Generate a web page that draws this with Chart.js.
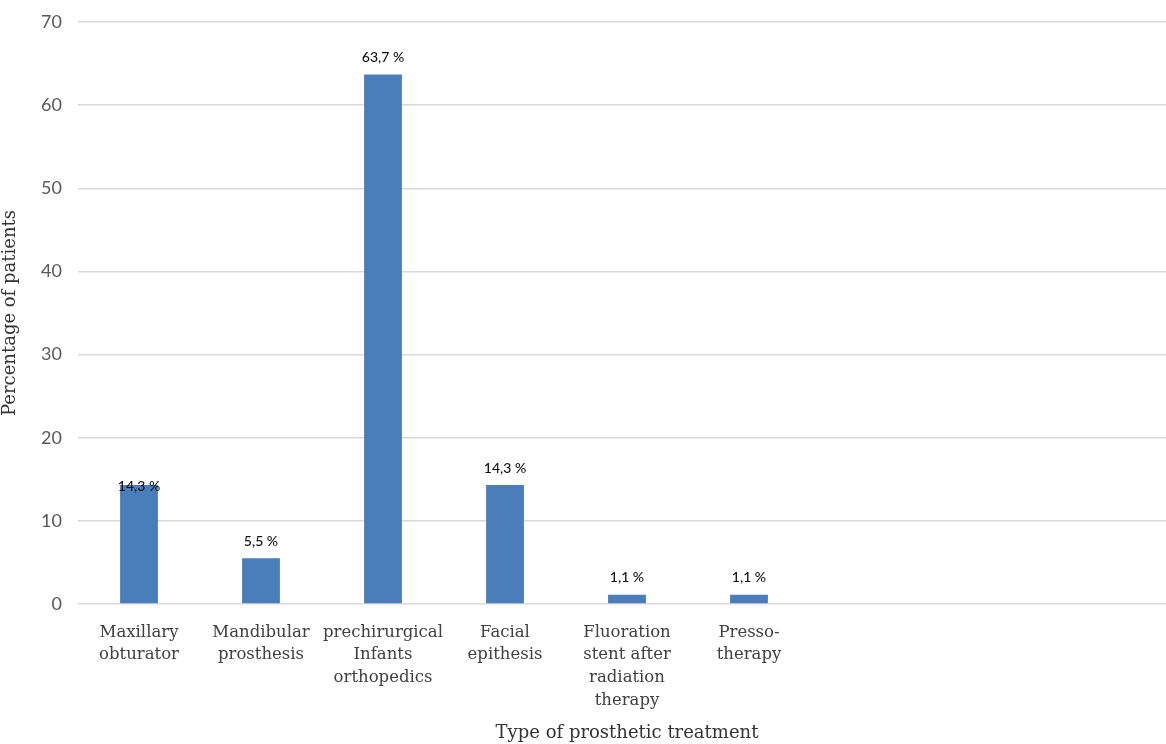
<!DOCTYPE html>
<html>
<head>
<meta charset="utf-8">
<script src="https://cdn.jsdelivr.net/npm/chart.js@4"></script>
<style>
  html, body { margin: 0; padding: 0; background: #fff; overflow: hidden; }
  #wrap { width: 1180px; height: 744px; }
</style>
</head>
<body>
<div id="wrap"><canvas id="myChart" width="1180" height="744"></canvas></div>
<script>
'use strict';

// categories (last three slots are empty in the original)
var categories = [
  ['Maxillary', 'obturator'],
  ['Mandibular', 'prosthesis'],
  ['prechirurgical', 'Infants', 'orthopedics'],
  ['Facial', 'epithesis'],
  ['Fluoration', 'stent after', 'radiation', 'therapy'],
  ['Presso-', 'therapy'],
  '', '', ''
];
var percentages = [14.3, 5.5, 63.7, 14.3, 1.1, 1.1, null, null, null];
var valueLabels = ['14,3 %', '5,5 %', '63,7 %', '14,3 %', '1,1 %', '1,1 %', '', '', ''];
var yTicks = [0, 10, 20, 30, 40, 50, 60, 70];

// draws the "xx,x %" labels above each bar
var barLabels = {
  id: 'barLabels',
  afterDatasetsDraw: function(chart) {
    var ctx = chart.ctx;
    var meta = chart.getDatasetMeta(0);
    ctx.save();
    ctx.font = '500 14px Lato, "Open Sans", sans-serif';
    ctx.fillStyle = '#111';
    ctx.textAlign = 'center';
    ctx.textBaseline = 'bottom';
    meta.data.forEach(function(bar, i) {
      if (!valueLabels[i]) return;
      var off = i === 0 ? -8 : 10;   // first label sits on the bar top in the original
      ctx.fillText(valueLabels[i], bar.x, bar.y - off);
    });
    ctx.restore();
  }
};

var ctx = document.getElementById('myChart').getContext('2d');
new Chart(ctx, {
  type: 'bar',
  data: {
    labels: categories,
    datasets: [{
      data: percentages,
      backgroundColor: '#4a7ebb',
      borderWidth: 0,
      categoryPercentage: 1,
      barPercentage: 0.31
    }]
  },
  options: {
    responsive: false,
    animation: false,
    layout: { padding: { top: 22, right: 4, left: 0, bottom: 0 } },
    plugins: {
      legend: { display: false },
      tooltip: { enabled: false }
    },
    scales: {
      x: {
        grid: { display: false },
        border: { display: false },
        ticks: {
          autoSkip: false,
          maxRotation: 0,
          padding: 9,
          color: '#404040',
          font: { family: '"DejaVu Serif", serif', size: 16.5, lineHeight: 1.38 }
        },
        title: {
          display: true,
          text: 'Type of prosthetic treatment',
          color: '#333',
          font: { family: '"DejaVu Serif", serif', size: 18 },
          padding: { top: 0, bottom: 0 }
        },
        afterFit: function(scale) { scale.height = 140; }
      },
      y: {
        min: 0,
        max: 70,
        afterBuildTicks: function(scale) {
          scale.ticks = yTicks.map(function(v) { return { value: v }; });
        },
        grid: { color: '#d9d9d9', lineWidth: 1.5, drawTicks: false },
        border: { display: false },
        ticks: {
          padding: 16,
          color: '#595959',
          font: { family: 'Lato, "Open Sans", sans-serif', size: 18 }
        },
        title: {
          display: true,
          text: 'Percentage of patients',
          color: '#333',
          font: { family: '"DejaVu Serif", serif', size: 18 },
          padding: { top: 0, bottom: 4 }
        },
        afterFit: function(scale) {
          scale.width = 78;
          scale.paddingTop = 0;
          scale.paddingBottom = 0;
        }
      }
    }
  },
  plugins: [barLabels]
});
</script>
</body>
</html>
